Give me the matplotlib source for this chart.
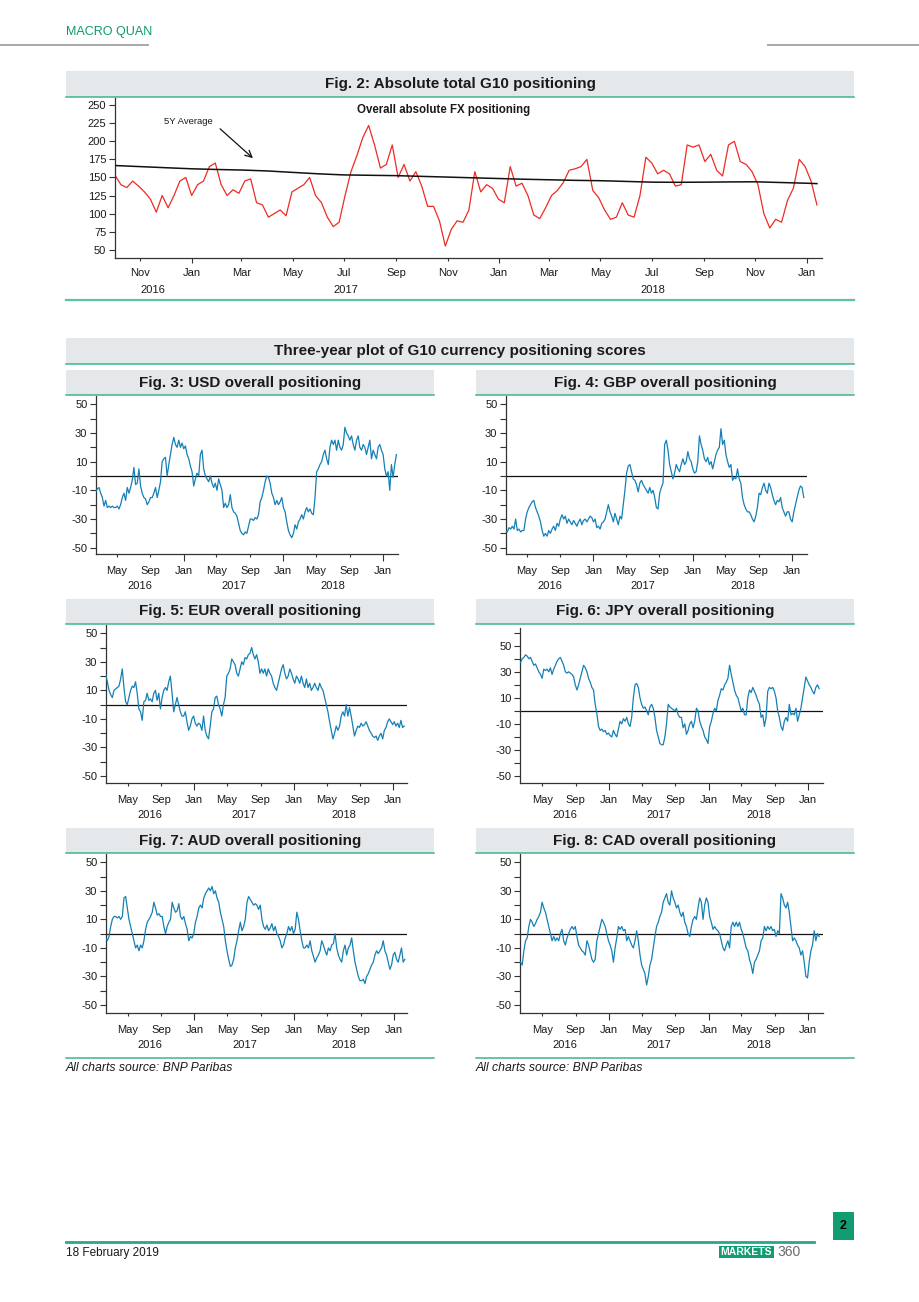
import matplotlib
matplotlib.use('Agg')
import matplotlib.pyplot as plt
import matplotlib.dates as mdates
from matplotlib.ticker import FixedLocator
from matplotlib.patches import Rectangle
from matplotlib.lines import Line2D
import pandas as pd

# ---------------- DATA ----------------
# Fig 2: weekly absolute total G10 positioning, from 2016-10-02
fig2_start = '2016-10-02'
fig2_vals = [153, 140, 136, 145, 138, 130, 120, 102, 125, 108,
             125, 145, 150, 125, 140, 145, 165, 170, 140, 125,
             133, 128, 145, 148, 115, 112, 95, 100, 105, 97,
             130, 135, 140, 150, 125, 115, 95, 82, 88, 125,
             158, 180, 205, 222, 195, 163, 168, 195, 150, 168,
             145, 158, 138, 110, 110, 90, 55, 78, 90, 88,
             105, 158, 130, 140, 135, 120, 115, 165, 138, 142,
             125, 98, 93, 108, 125, 132, 143, 160, 162, 165,
             175, 132, 122, 105, 92, 95, 115, 98, 95, 125,
             178, 170, 155, 160, 155, 138, 140, 195, 192, 195,
             172, 182, 160, 152, 195, 200, 172, 168, 158, 140,
             100, 80, 92, 88, 118, 135, 175, 165, 145, 112]
avg5y_dates = ['2016-10-02', '2016-11-01', '2016-12-01', '2017-01-01', '2017-02-01', '2017-03-01',
               '2017-04-01', '2017-05-01', '2017-06-01', '2017-07-01', '2017-08-01', '2017-09-01',
               '2017-10-01', '2017-11-01', '2017-12-01', '2018-01-01', '2018-02-01', '2018-03-01',
               '2018-04-01', '2018-05-01', '2018-06-01', '2018-07-01', '2018-08-01', '2018-09-01',
               '2018-10-01', '2018-11-01', '2018-12-01', '2019-01-01', '2019-01-13']
avg5y_vals = [166.5, 165, 163.5, 162, 161, 160.3, 159, 157, 155, 153.5, 153, 152.5,
              151.5, 150.5, 149.5, 148.5, 147.5, 146.8, 146, 145.5, 144.5, 143.5, 143.3, 143.5,
              143.8, 144, 143, 142, 141.5]

# Small charts: positioning scores, ~6-day steps
usd_start = '2016-02-14'
usd_vals = [-11, -9, -8, -12, -15, -21, -17, -22, -21, -22,
            -21, -22, -22, -21, -23, -20, -15, -12, -17, -8,
            -12, -8, -3, 6, -6, -5, 5, -7, -12, -15,
            -16, -20, -18, -15, -15, -12, -8, -15, -10, -4,
            10, 12, 13, 0, 8, 15, 22, 27, 22, 20,
            25, 20, 23, 19, 21, 15, 12, 7, 3, -7,
            -2, 2, 0, 15, 18, 5, 0, -2, -4, 0,
            -5, -8, -5, -10, -2, -6, -10, -22, -19, -22,
            -20, -13, -22, -25, -26, -28, -33, -38, -40, -41,
            -39, -40, -35, -30, -30, -31, -29, -30, -27, -18,
            -15, -10, -4, 0, -1, -5, -12, -15, -20, -17,
            -20, -18, -15, -22, -25, -32, -38, -41, -43, -40,
            -34, -37, -32, -30, -27, -30, -25, -22, -25, -23,
            -26, -27, -15, 3, 5, 8, 10, 15, 18, 12,
            8, 20, 25, 22, 25, 18, 25, 20, 18, 22,
            34, 30, 28, 25, 28, 22, 18, 25, 28, 20,
            18, 22, 20, 15, 20, 25, 12, 18, 15, 12,
            20, 22, 18, 15, 5, 0, 3, -10, 8, -1,
            8, 15]

gbp_start = '2016-02-14'
gbp_vals = [-38, -39, -36, -37, -35, -37, -30, -38, -37, -39,
            -38, -38, -30, -25, -22, -20, -18, -17, -22, -25,
            -28, -32, -38, -42, -40, -42, -38, -40, -37, -35,
            -38, -33, -35, -30, -27, -30, -28, -33, -30, -32,
            -34, -31, -33, -35, -32, -30, -34, -31, -30, -32,
            -30, -28, -29, -32, -30, -36, -35, -37, -33, -32,
            -30, -25, -20, -25, -28, -32, -26, -30, -34, -28,
            -30, -20, -10, 2, 7, 8, 3, -2, -3, -6,
            -11, -5, -3, -6, -8, -10, -12, -8, -12, -10,
            -15, -22, -23, -12, -8, -5, 22, 25, 18, 8,
            3, -2, 2, 8, 5, 3, 8, 12, 8, 10,
            17, 12, 10, 5, 2, 3, 10, 28, 22, 18,
            12, 10, 13, 8, 10, 5, 10, 15, 18, 20,
            33, 22, 25, 15, 10, 6, 8, -3, -1, -2,
            5, -2, -5, -15, -20, -23, -25, -25, -27, -30,
            -32, -28, -22, -12, -13, -8, -5, -10, -12, -5,
            -8, -13, -17, -20, -17, -18, -15, -22, -25, -28,
            -25, -25, -30, -32, -25, -20, -15, -10, -7, -8,
            -15]

eur_start = '2016-02-11'
eur_vals = [21, 16, 10, 7, 5, 10, 11, 12, 13, 18,
            25, 12, 2, 0, 5, 10, 13, 12, 16, 8,
            -3, -5, -11, 2, 3, 8, 3, 4, 2, 8,
            10, 3, 8, -3, 5, 10, 12, 10, 16, 20,
            8, -5, 0, 5, 0, -5, -8, -8, -5, -12,
            -18, -15, -10, -8, -13, -15, -13, -14, -18, -8,
            -18, -22, -24, -15, -5, -3, 5, 6, 0, -3,
            -8, 0, 5, 20, 22, 25, 32, 30, 28, 22,
            20, 25, 30, 28, 33, 32, 35, 36, 40, 35,
            32, 35, 30, 22, 25, 22, 25, 20, 25, 22,
            20, 15, 12, 10, 15, 20, 25, 28, 22, 18,
            20, 25, 22, 18, 15, 20, 18, 15, 20, 15,
            12, 18, 12, 15, 10, 12, 15, 12, 10, 15,
            12, 10, 5, 0, -5, -12, -18, -24, -20, -15,
            -18, -15, -8, -5, -8, 0, -8, -2, -8, -15,
            -22, -18, -15, -16, -13, -15, -14, -12, -15, -18,
            -20, -22, -23, -22, -25, -22, -20, -24, -18, -16,
            -12, -10, -12, -14, -12, -15, -13, -16, -11, -16,
            -15]

jpy_start = '2016-02-11'
jpy_vals = [37, 40, 41, 43, 42, 40, 41, 38, 35, 36,
            33, 30, 28, 25, 32, 31, 32, 30, 33, 28,
            32, 35, 38, 40, 41, 38, 35, 30, 29, 30,
            29, 28, 26, 20, 16, 20, 25, 30, 35, 33,
            30, 25, 22, 18, 16, 5, -2, -12, -15, -14,
            -16, -15, -18, -17, -19, -20, -15, -18, -20, -14,
            -8, -10, -6, -8, -5, -10, -12, -5, 10, 20,
            21, 18, 10, 5, 2, 3, 0, -3, 3, 5,
            2, -5, -15, -20, -25, -26, -26, -20, -10, 5,
            3, 2, 1, 0, 2, -3, -5, -5, -13, -10,
            -18, -15, -10, -8, -13, -8, 2, 0, -8, -12,
            -15, -20, -22, -25, -12, -8, -2, 2, 0, 8,
            12, 17, 16, 20, 22, 25, 35, 28, 22, 16,
            12, 10, 5, 0, 2, -3, -3, 10, 16, 14,
            18, 15, 12, 8, 5, -5, -3, -12, -5, 15,
            18, 17, 18, 15, 10, 0, -5, -12, -15, -8,
            -5, -8, 5, -3, -2, -3, 2, -8, -3, 2,
            10, 18, 26, 23, 20, 18, 15, 13, 18, 20,
            17]

aud_start = '2016-02-11'
aud_vals = [-3, -5, -2, 5, 10, 12, 12, 11, 12, 10,
            12, 25, 26, 18, 10, 5, 0, -5, -10, -8,
            -12, -8, -10, -5, 3, 8, 10, 12, 15, 22,
            18, 13, 14, 12, 12, 5, 0, 5, 8, 10,
            22, 18, 15, 16, 21, 12, 10, 12, 7, 3,
            -5, -2, -3, 0, 8, 12, 18, 20, 18, 25,
            28, 30, 32, 30, 33, 28, 30, 25, 22, 15,
            10, 5, -5, -12, -18, -23, -22, -18, -10, -5,
            2, 8, 2, 5, 10, 22, 26, 24, 22, 20,
            21, 20, 17, 20, 10, 5, 3, 6, 2, 4,
            7, 2, 5, 0, -2, -5, -10, -8, -3, 0,
            5, 2, 5, 0, 3, 15, 10, 2, -5, -10,
            -10, -8, -10, -5, -12, -16, -20, -17, -15, -12,
            -5, -8, -12, -15, -10, -12, -8, -7, 0, -10,
            -15, -18, -20, -12, -8, -15, -10, -8, -3, -12,
            -20, -25, -30, -33, -33, -32, -35, -30, -28, -25,
            -22, -20, -15, -12, -14, -12, -10, -5, -12, -15,
            -20, -25, -22, -15, -13, -18, -20, -15, -10, -20,
            -18]

cad_start = '2016-02-11'
cad_vals = [-20, -22, -12, -5, -3, 5, 10, 8, 5, 7,
            10, 12, 15, 22, 18, 15, 10, 5, 0, -5,
            -2, -5, -3, -5, 0, 3, -5, -8, -3, 0,
            3, 5, 3, 5, -2, -8, -10, -12, -13, -15,
            -5, -8, -13, -18, -20, -18, -5, 0, 5, 10,
            8, 5, 0, -5, -8, -12, -20, -10, -3, 5,
            3, 5, 2, 3, -5, -2, -5, -8, -10, -5,
            2, -5, -15, -22, -25, -28, -36, -30, -22, -18,
            -10, -2, 5, 8, 12, 15, 22, 25, 28, 22,
            20, 30, 25, 22, 18, 20, 15, 12, 15, 8,
            5, 0, -2, 5, 10, 12, 10, 18, 25, 22,
            10, 20, 25, 22, 12, 8, 3, 5, 3, 2,
            0, -5, -10, -12, -8, -5, -10, 5, 8, 5,
            8, 5, 8, 3, 0, -5, -10, -12, -18, -22,
            -28, -20, -18, -15, -12, -5, -3, 5, 2, 5,
            3, 5, 2, 3, -2, 2, 0, 28, 25, 20,
            18, 22, 15, 5, -5, -3, -5, -8, -10, -15,
            -12, -20, -30, -31, -20, -12, -8, 2, -5, 0,
            -2]

small_yticks = [-50, -30, -10, 10, 30, 50]
small_yminor = [-40, -20, 0, 20, 40]
fig2_yticks = [50, 75, 100, 125, 150, 175, 200, 225, 250]
years_labels = [2016, 2017, 2018]

# ---------------- STYLE / LAYOUT ----------------
W, H = 920, 1302
RED = '#ee2b24'
BLUE = '#1580b6'
BAR = '#e5e8ea'
GREEN = '#3fb58c'
TXT = '#1a1a1a'
AX = '#333333'

plt.rcParams['font.family'] = ['Liberation Sans', 'DejaVu Sans']
plt.rcParams['axes.unicode_minus'] = False
fig = plt.figure(figsize=(W / 100, H / 100), dpi=100)


def fx(x):
    return x / W


def fy(y):
    return 1 - y / H


def add_rect(l, t, r, b, color, z=0):
    fig.patches.append(Rectangle((fx(l), fy(b)), (r - l) / W, (b - t) / H,
                                 transform=fig.transFigure, facecolor=color,
                                 edgecolor='none', zorder=z))


def add_hline(x0, x1, y, color, lw):
    fig.lines.append(Line2D([fx(x0), fx(x1)], [fy(y), fy(y)],
                            transform=fig.transFigure, color=color, lw=lw))


def title_bar(l, t, r, b, text):
    add_rect(l, t, r, b, BAR)
    add_hline(l, r, b, GREEN, 1.1)
    fig.text(fx((l + r) / 2), fy((t + b) / 2), text, ha='center', va='center',
             fontsize=11, fontweight='bold', color=TXT)


def make_axes(l, t, r, b):
    ax = fig.add_axes([fx(l), fy(b), (r - l) / W, (b - t) / H])
    ax.patch.set_alpha(0)
    for s in ['top', 'right']:
        ax.spines[s].set_visible(False)
    for s in ['left', 'bottom']:
        ax.spines[s].set_color(AX)
        ax.spines[s].set_linewidth(0.9)
    return ax


def year_labels(ax, xlim, offset_pt):
    x0, x1 = pd.Timestamp(xlim[0]), pd.Timestamp(xlim[1])
    for yr in years_labels:
        a = max(x0, pd.Timestamp(f'{yr}-01-01'))
        bnd = min(x1, pd.Timestamp(f'{yr + 1}-01-01'))
        mid = a + (bnd - a) / 2
        ax.annotate(str(yr), xy=(mdates.date2num(mid), 0),
                    xycoords=('data', 'axes fraction'),
                    xytext=(0, -offset_pt), textcoords='offset points',
                    ha='center', va='top', fontsize=8, color=TXT)


# ---------------- HEADER / FOOTER ----------------
fig.text(fx(66), fy(32), 'MACRO QUAN', ha='left', va='center', fontsize=9,
         color='#0b9a6b')
add_hline(0, 148, 45, '#a8a8a8', 1.4)
add_hline(768, 920, 45, '#a8a8a8', 1.4)

add_hline(66, 814, 1241.5, '#24a98b', 2.0)
fig.text(fx(66), fy(1253), '18 February 2019', ha='left', va='center',
         fontsize=8.5, color=TXT)
add_rect(719, 1246, 774, 1258, '#129c72')
fig.text(fx(746.5), fy(1252), 'MARKETS', ha='center', va='center', fontsize=7.5,
         fontweight='bold', color='white')
fig.text(fx(777), fy(1252), '360', ha='left', va='center', fontsize=10, color='#6b6b6b')
add_rect(833, 1212, 854, 1240, '#129c72')
fig.text(fx(843.5), fy(1226), '2', ha='center', va='center', fontsize=9,
         fontweight='bold', color='black')

# ---------------- FIG 2 ----------------
title_bar(66, 71, 854, 97, 'Fig. 2: Absolute total G10 positioning')
ax2 = make_axes(115, 98, 822, 258)
d2 = pd.date_range(fig2_start, periods=len(fig2_vals), freq='7D')
ax2.plot(d2, fig2_vals, color=RED, lw=0.9, zorder=2)
ax2.plot(pd.to_datetime(avg5y_dates), avg5y_vals, color='#111111', lw=1.1, zorder=3)
xl2 = ('2016-10-02', '2019-01-19')
ax2.set_xlim(pd.Timestamp(xl2[0]), pd.Timestamp(xl2[1]))
ax2.set_ylim(38.5, 260)
ax2.yaxis.set_major_locator(FixedLocator(fig2_yticks))
ax2.tick_params(axis='y', direction='out', length=4.3, width=0.8, colors=AX,
                labelsize=8, labelcolor=TXT, pad=2)
ax2.xaxis.set_major_locator(mdates.MonthLocator(bymonth=[1]))
ax2.xaxis.set_minor_locator(mdates.MonthLocator(bymonth=[3, 5, 7, 9, 11]))
ax2.xaxis.set_major_formatter(mdates.DateFormatter('%b'))
ax2.xaxis.set_minor_formatter(mdates.DateFormatter('%b'))
ax2.tick_params(axis='x', which='major', direction='out', length=3.6, width=0.8,
                colors=AX, labelcolor=TXT, labelsize=8, pad=3.6)
ax2.tick_params(axis='x', which='minor', direction='out', length=2.0, width=0.8,
                colors=AX, labelcolor=TXT, labelsize=8, pad=5.2)
year_labels(ax2, xl2, 19.4)
ax2.text(0.4653, 0.925, 'Overall absolute FX positioning', transform=ax2.transAxes,
         ha='center', va='center', fontsize=8.3, fontweight='bold', color=TXT)
ax2.annotate('', xy=(0.198, 0.6125), xytext=(0.1457, 0.819), xycoords='axes fraction',
             textcoords='axes fraction',
             arrowprops=dict(arrowstyle='->', color='#111111', lw=0.9, mutation_scale=12))
ax2.text(0.1033, 0.856, '5Y Average', transform=ax2.transAxes, ha='center',
         va='center', fontsize=6.8, color=TXT)
add_hline(66, 854, 300, '#5cc49f', 1.6)

# ---------------- SMALL CHARTS ----------------
title_bar(66, 338, 854, 364, 'Three-year plot of G10 currency positioning scores')


def small_chart(box, title_box, title, start, vals, xlim, ylim, minor_extra=()):
    title_bar(*title_box, title)
    ax = make_axes(*box)
    d = pd.date_range(start, periods=len(vals), freq='146h')
    ax.plot(d, vals, color=BLUE, lw=0.9, zorder=3)
    ax.axhline(0, color='#111111', lw=0.9, zorder=2)
    ax.set_xlim(pd.Timestamp(xlim[0]), pd.Timestamp(xlim[1]))
    ax.set_ylim(*ylim)
    ax.yaxis.set_major_locator(FixedLocator(small_yticks))
    ax.yaxis.set_minor_locator(FixedLocator(small_yminor + list(minor_extra)))
    ax.tick_params(axis='y', which='both', direction='out', length=4.0, width=0.8,
                   colors=AX, labelcolor=TXT, labelsize=8, pad=2)
    ax.xaxis.set_major_locator(mdates.MonthLocator(bymonth=[1]))
    ax.xaxis.set_minor_locator(mdates.MonthLocator(bymonth=[5, 9]))
    ax.xaxis.set_major_formatter(mdates.DateFormatter('%b'))
    ax.xaxis.set_minor_formatter(mdates.DateFormatter('%b'))
    ax.tick_params(axis='x', which='major', direction='out', length=4.8, width=0.8,
                   colors=AX, labelcolor=TXT, labelsize=8, pad=3.8)
    ax.tick_params(axis='x', which='minor', direction='out', length=2.4, width=0.8,
                   colors=AX, labelcolor=TXT, labelsize=8, pad=6.2)
    year_labels(ax, xlim, 19.5)
    return ax


small_chart((95.7, 396, 398.3, 554.3), (66, 370, 434, 395), 'Fig. 3: USD overall positioning',
            usd_start, usd_vals, ('2016-02-14', '2019-02-26'), (-54.6, 55.8))
small_chart((505.7, 396, 807.3, 554.3), (476, 370, 854, 395), 'Fig. 4: GBP overall positioning',
            gbp_start, gbp_vals, ('2016-02-14', '2019-02-26'), (-54.6, 55.8))
small_chart((105.7, 625, 406.7, 783.3), (66, 599, 434, 624), 'Fig. 5: EUR overall positioning',
            eur_start, eur_vals, ('2016-02-11', '2019-02-19'), (-55.1, 55.8))
small_chart((520, 628, 822.7, 783.3), (476, 599, 854, 624), 'Fig. 6: JPY overall positioning',
            jpy_start, jpy_vals, ('2016-02-09', '2019-02-23'), (-55.6, 63.6), minor_extra=(60,))
small_chart((105.7, 854, 407.3, 1012.7), (66, 828, 434, 853), 'Fig. 7: AUD overall positioning',
            aud_start, aud_vals, ('2016-02-11', '2019-02-19'), (-55.4, 55.8))
small_chart((520, 854, 822.7, 1012.7), (476, 828, 854, 853), 'Fig. 8: CAD overall positioning',
            cad_start, cad_vals, ('2016-02-09', '2019-02-23'), (-55.4, 55.8))

add_hline(66, 434, 1057.7, GREEN, 1.1)
add_hline(476, 854, 1057.7, GREEN, 1.1)
fig.text(fx(66), fy(1068), 'All charts source: BNP Paribas', ha='left', va='center',
         fontsize=8.8, fontstyle='italic', color=TXT)
fig.text(fx(476), fy(1068), 'All charts source: BNP Paribas', ha='left', va='center',
         fontsize=8.8, fontstyle='italic', color=TXT)

fig.savefig('out.png', dpi=100, facecolor='white')
